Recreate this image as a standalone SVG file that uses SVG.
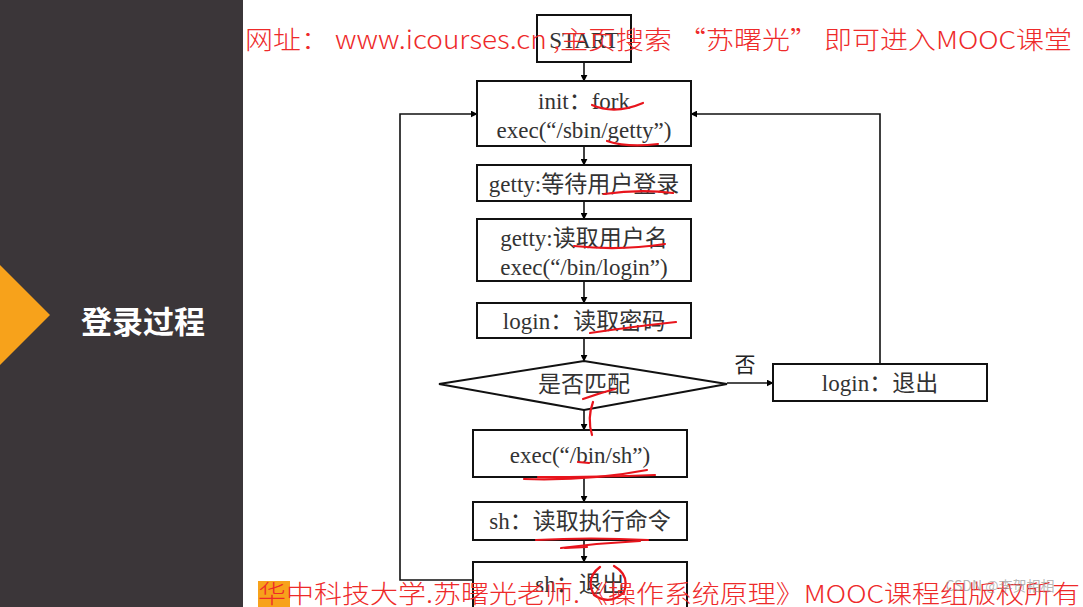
<svg xmlns="http://www.w3.org/2000/svg" width="1083" height="607" viewBox="0 0 1083 607">
<defs>
<marker id="ah" viewBox="0 0 10 10" refX="9" refY="5" markerWidth="7" markerHeight="7" orient="auto" markerUnits="userSpaceOnUse"><path d="M0,0 L10,5 L0,10 z" fill="#000"/></marker>
<style>
.box{fill:#fff;stroke:#111;stroke-width:2}
.t{font-family:"Liberation Serif","Noto Sans CJK SC",serif;font-size:23px;fill:#333;text-anchor:middle}
.c{fill:none;stroke:#111;stroke-width:1.6}
.red{fill:none;stroke:#e8141c;stroke-width:2.2;stroke-linecap:round}
.wm{font-family:"Noto Sans CJK SC","Liberation Sans",sans-serif;font-size:25px;font-weight:300;fill:#ee2a2a}
</style>
</defs>
<rect x="0" y="0" width="1083" height="607" fill="#fff"/>
<rect x="0" y="0" width="243" height="607" fill="#3b3639"/>
<polygon points="0,265 50,315 0,365" fill="#f7a21b"/>
<text x="143" y="333" font-family="Noto Sans CJK SC,sans-serif" font-size="31" font-weight="bold" fill="#fff" text-anchor="middle">登录过程</text>

<g id="connectors">
<line class="c" x1="584" y1="62" x2="584" y2="81" marker-end="url(#ah)"/>
<line class="c" x1="584" y1="146" x2="584" y2="165" marker-end="url(#ah)"/>
<line class="c" x1="584" y1="201" x2="584" y2="219" marker-end="url(#ah)"/>
<line class="c" x1="584" y1="281" x2="584" y2="303" marker-end="url(#ah)"/>
<line class="c" x1="584" y1="338" x2="584" y2="361" marker-end="url(#ah)"/>
<line class="c" x1="727" y1="383" x2="773" y2="383" marker-end="url(#ah)"/>
<polyline class="c" points="880,364 880,114 691,114" marker-end="url(#ah)"/>
<line class="c" x1="584" y1="410" x2="584" y2="430" marker-end="url(#ah)"/>
<line class="c" x1="584" y1="477" x2="584" y2="502" marker-end="url(#ah)"/>
<line class="c" x1="584" y1="540" x2="584" y2="562" marker-end="url(#ah)"/>
<polyline class="c" points="473,580 400,580 400,114 477,114" marker-end="url(#ah)"/>
<text x="745" y="372" font-family="Noto Sans CJK SC,sans-serif" font-size="21" fill="#222" text-anchor="middle">否</text>
</g>

<g id="start"><rect class="box" x="537" y="15" width="94" height="47"/><text class="t" x="584" y="48">START</text></g>
<g id="init"><rect class="box" x="477" y="81" width="214" height="65"/><text class="t" x="584" y="109">init：fork</text><text class="t" x="584" y="138">exec(“/sbin/getty”)</text></g>
<g id="getty-wait"><rect class="box" x="477" y="165" width="214" height="36"/><text class="t" x="584" y="192">getty:等待用户登录</text></g>
<g id="getty-read"><rect class="box" x="477" y="219" width="214" height="62"/><text class="t" x="584" y="246">getty:读取用户名</text><text class="t" x="584" y="275">exec(“/bin/login”)</text></g>
<g id="login-pwd"><rect class="box" x="477" y="303" width="214" height="35"/><text class="t" x="584" y="329">login：读取密码</text></g>
<g id="match"><polygon class="box" points="439,384 584,361 727,384 584,410"/><text class="t" x="584" y="392" font-size="24">是否匹配</text></g>
<g id="login-exit"><rect class="box" x="773" y="364" width="214" height="37"/><text class="t" x="880" y="391">login：退出</text></g>
<g id="exec-sh"><rect class="box" x="473" y="430" width="214" height="47"/><text class="t" x="580" y="463">exec(“/bin/sh”)</text></g>
<g id="sh-read"><rect class="box" x="473" y="502" width="214" height="38"/><text class="t" x="580" y="529">sh：读取执行命令</text></g>
<g id="sh-exit"><rect class="box" x="473" y="562" width="214" height="50"/><text class="t" x="580" y="592">sh：退出</text></g>

<g id="annotations">
<path class="red" d="M592,105 Q615,115 643,103"/>
<path class="red" d="M607,141 Q628,148 658,144"/>
<path class="red" d="M604,194 Q640,189 673,193"/>
<path class="red" d="M574,246 Q620,251 665,244"/>
<path class="red" d="M590,333 Q630,327 676,322"/>
<path class="red" d="M583,399 Q600,393 615,389"/>
<path class="red" d="M593,402 Q587,418 592,435"/>
<path class="red" d="M578,462 L589,463"/>
<path class="red" d="M524,479 Q590,481 647,470"/>
<path class="red" d="M538,477 Q600,477 655,475"/>
<path class="red" d="M536,540 Q590,537 648,540"/>
<path class="red" d="M561,548 Q600,543 640,541"/>
<path class="red" d="M565,548 L587,547"/>
<path class="red" d="M600,567 Q585,578 594,595 Q610,606 624,592 Q630,575 614,566"/>
</g>

<g id="watermarks">
<text class="wm" x="245" y="49" textLength="827" lengthAdjust="spacingAndGlyphs">网址： www.icourses.cn ,主页搜索 “苏曙光” 即可进入MOOC课堂</text>
<rect x="258" y="581" width="32" height="26" fill="#f7a21b"/>
<text class="wm" x="258" y="603" textLength="822" lengthAdjust="spacingAndGlyphs">华中科技大学.苏曙光老师.《操作系统原理》MOOC课程组版权所有</text>
<text x="1000" y="591" font-family="Noto Sans CJK SC,sans-serif" font-size="14" fill="#999" fill-opacity="0.7" text-anchor="middle">CSDN @李贺相相</text>
</g>
</svg>
